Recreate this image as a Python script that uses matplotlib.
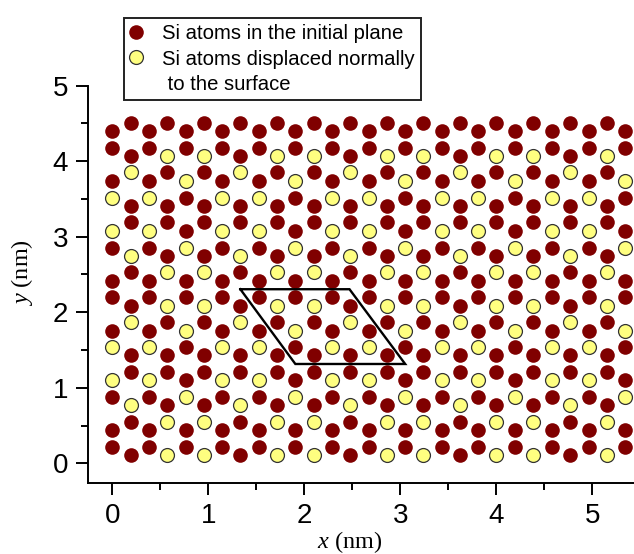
#!/usr/bin/env python
# -*- coding: utf-8 -*-
import matplotlib
matplotlib.use('Agg')
import matplotlib.pyplot as plt
from matplotlib.lines import Line2D

plt.rcParams['font.family'] = 'Liberation Sans'
plt.rcParams['mathtext.fontset'] = 'custom'
plt.rcParams['mathtext.rm'] = 'Liberation Serif'
plt.rcParams['mathtext.it'] = 'Liberation Serif:italic'

# column positions (nm)
col_x = [0.00, 0.19, 0.38, 0.57, 0.765, 0.955, 1.14, 1.33, 1.525, 1.715,
         1.905, 2.10, 2.29, 2.48, 2.67, 2.86, 3.05, 3.24, 3.43, 3.62,
         3.81, 4.00, 4.19, 4.38, 4.575, 4.765, 4.96, 5.15, 5.34]

# atom heights, top to bottom, one list for even and one for odd columns (nm)
even_y = [4.401, 4.180, 3.739, 3.518, 3.077, 2.856, 2.415,
          2.196, 1.756, 1.536, 1.099, 0.878, 0.437, 0.216]
odd_y = [4.511, 4.070, 3.854, 3.412, 3.192, 2.750, 2.530,
         2.087, 1.871, 1.430, 1.209, 0.772, 0.551, 0.110]

# r = in plane, y = displaced, one string per column, same order as the heights
col_kind = [
    'rrryyrrrryyrrr', 'rryrryrryrryrr', 'rrryyrrrryyrrr', 'ryrrrryyrrrryy',
    'rryrryrryrryrr', 'ryrrrryyrrrryy', 'rrryyrrrryyrrr', 'rryrryrryrryrr',
    'rrryyrrrryyrrr', 'ryrrrryyrrrryy', 'rryrryrryrryrr', 'ryrrrryyrrrryy',
    'rrryyrrrryyrrr', 'rryrryrryrryrr', 'rrryyrrrryyrrr', 'ryrrrryyrrrryy',
    'rryrryrryrryrr', 'ryrrrryyrrrryy', 'rrryyrrrryyrrr', 'rryrryrryrryrr',
    'rrryyrrrryyrrr', 'ryrrrryyrrrryy', 'rryrryrryrryrr', 'ryrrrryyrrrryy',
    'rrryyrrrryyrrr', 'rryrryrryrryrr', 'rrryyrrrryyrrr', 'ryrrrryyrrrryy',
    'rryrryrryrryrr',
]

# unit cell corners (nm)
cell_x = [1.333, 2.47, 3.05, 1.906, 1.333]
cell_y = [2.305, 2.305, 1.315, 1.315, 2.305]

x_ticks = [0, 1, 2, 3, 4, 5]
y_ticks = [0, 1, 2, 3, 4, 5]
minor_ticks = [0.5, 1.5, 2.5, 3.5, 4.5]
legend_labels = ['Si atoms in the initial plane',
                 'Si atoms displaced normally',
                 ' to the surface']

RED = '#800000'
YELLOW = '#ffff80'
EDGE = '#333333'


def split_atoms():
    red_x, red_y, yel_x, yel_y = [], [], [], []
    for i, x in enumerate(col_x):
        rows = even_y if i % 2 == 0 else odd_y
        for y, kind in zip(rows, col_kind[i]):
            if kind == 'r':
                red_x.append(x)
                red_y.append(y)
            else:
                yel_x.append(x)
                yel_y.append(y)
    return red_x, red_y, yel_x, yel_y


def main():
    red_x, red_y, yel_x, yel_y = split_atoms()

    fig = plt.figure(figsize=(6.34, 5.54), dpi=100)
    ax = fig.add_axes([88.3 / 634, (554 - 482.7) / 554, 545.7 / 634, 397 / 554])

    ax.plot(red_x, red_y, 'o', ms=10.5, mfc=RED, mec=RED, mew=0, clip_on=False)
    ax.plot(yel_x, yel_y, 'o', ms=10, mfc=YELLOW, mec=EDGE, mew=0.9, clip_on=False)
    ax.plot(cell_x, cell_y, color='black', lw=1.7, solid_joinstyle='miter')

    ax.set_xlim(-0.251, 5.434)
    ax.set_ylim(-0.257, 5)
    ax.set_xticks(x_ticks)
    ax.set_yticks(y_ticks)
    ax.set_xticks(minor_ticks, minor=True)
    ax.set_yticks(minor_ticks, minor=True)
    ax.tick_params(axis='both', which='major', labelsize=20, width=1.4, length=8.5, pad=6)
    ax.tick_params(axis='both', which='minor', width=1.4, length=5)
    ax.spines['top'].set_visible(False)
    ax.spines['right'].set_visible(False)
    ax.spines['left'].set_linewidth(1.4)
    ax.spines['bottom'].set_linewidth(1.4)

    ax.set_xlabel(r'$x$ (nm)', fontsize=17.5, family='Liberation Serif')
    ax.set_ylabel(r'$y$ (nm)', fontsize=17.5, family='Liberation Serif')
    ax.xaxis.set_label_coords(0.479, -0.117)
    ax.yaxis.set_label_coords(-0.097, 0.53)

    handles = [
        Line2D([], [], ls='', marker='o', ms=10.5, mfc=RED, mec=RED, mew=0),
        Line2D([], [], ls='', marker='o', ms=10, mfc=YELLOW, mec=EDGE, mew=0.9),
        Line2D([], [], ls=''),
    ]
    leg = fig.legend(handles, legend_labels, loc='upper left',
                     bbox_to_anchor=(124 / 634, 1 - 18 / 554), fontsize=14.6,
                     frameon=True, fancybox=False, framealpha=1, edgecolor='#222222',
                     borderpad=0.32, labelspacing=0.3, handletextpad=1.04,
                     handlelength=0.5, borderaxespad=0)
    leg.get_frame().set_linewidth(1.4)

    fig.savefig('out.png', dpi=100)


if __name__ == '__main__':
    main()
